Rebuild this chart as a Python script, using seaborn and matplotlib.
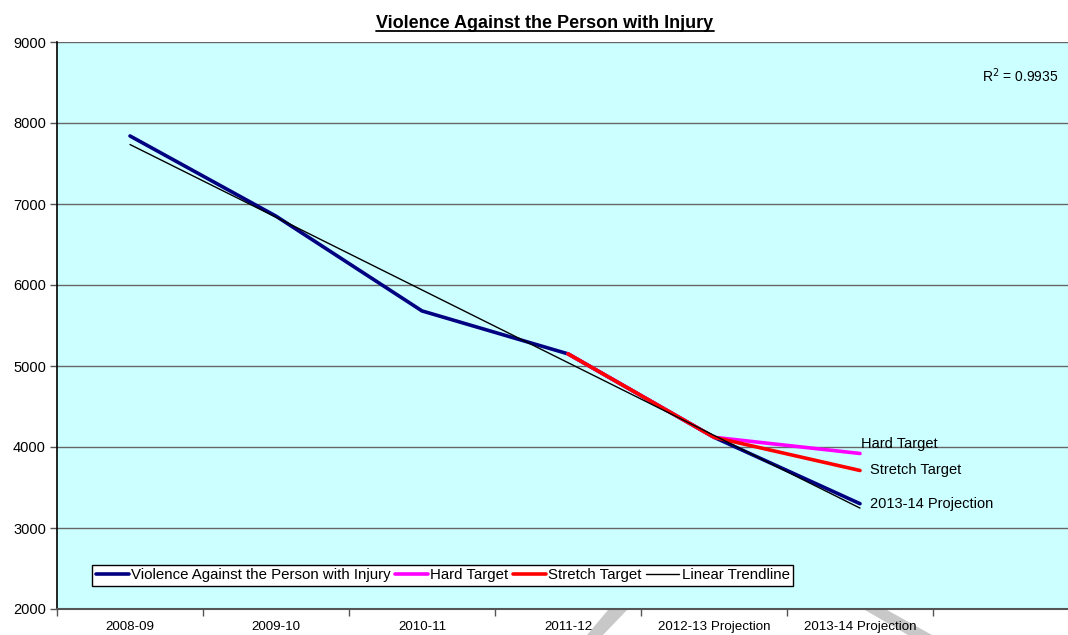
import numpy as np
import pandas as pd
import matplotlib
matplotlib.use("Agg")
import matplotlib.pyplot as plt
from matplotlib.patches import Polygon
import seaborn as sns

# ---- data -------------------------------------------------------------
periods = ["2008-09", "2009-10", "2010-11", "2011-12",
           "2012-13 Projection", "2013-14 Projection"]
offences = [7840, 6850, 5680, 5150, 4120, 3300]
hard_target = [np.nan, np.nan, np.nan, 5150, 4120, 3920]
stretch_target = [np.nan, np.nan, np.nan, 5150, 4120, 3710]
r_squared = "0.9935"

series_names = ["Violence Against the Person with Injury", "Hard Target",
                "Stretch Target"]
end_labels = ["2013-14 Projection", "Hard Target", "Stretch Target"]

# ---- styling ----------------------------------------------------------
sns.set_theme(style="white")
plt.rcParams["font.family"] = ["Liberation Sans", "DejaVu Sans"]
plt.rcParams["text.color"] = "black"
plt.rcParams["xtick.color"] = "black"
plt.rcParams["ytick.color"] = "black"

fig = plt.figure(figsize=(10.68, 6.35), dpi=100)
ax = fig.add_axes([57 / 1068, 26 / 635, 1022 / 1068, 567 / 635])
ax.set_facecolor("#CCFFFF")

idx = np.arange(len(periods))
df = pd.DataFrame({"idx": idx, "offences": offences,
                   "hard": hard_target, "stretch": stretch_target})

sns.lineplot(data=df, x="idx", y="offences", ax=ax, color="#000080",
             lw=2.6, label=series_names[0], zorder=3)
sns.lineplot(data=df.dropna(), x="idx", y="hard", ax=ax, color="#FF00FF",
             lw=2.6, label=series_names[1], zorder=4)
sns.lineplot(data=df.dropna(), x="idx", y="stretch", ax=ax, color="#FF0000",
             lw=2.6, label=series_names[2], zorder=5)
sns.regplot(data=df, x="idx", y="offences", ax=ax, scatter=False, ci=None,
            truncate=True, color="black", line_kws={"lw": 1.0, "zorder": 6},
            label="Linear Trendline")

# ---- axes -------------------------------------------------------------
ax.set_xlim(-0.5, 6.5)
ax.set_ylim(2000, 9000)
ax.set_yticks(range(2000, 9001, 1000))
ax.yaxis.grid(True, color="#666666", lw=1.0)
ax.set_axisbelow(True)
ax.set_xlabel("")
ax.set_ylabel("")

ax.set_xticks(idx)
ax.set_xticklabels(periods, fontsize=9.6)
ax.set_xticks(np.arange(-0.5, 7, 1.0), minor=True)
ax.tick_params(axis="x", which="major", length=0, pad=8.5)
ax.tick_params(axis="x", which="minor", length=5, width=1, color="#555555",
               direction="out", bottom=True)
ax.tick_params(axis="y", length=5, width=1, color="#555555", direction="out",
               left=True, labelsize=10.5, pad=3)

for side in ("top", "right"):
    ax.spines[side].set_visible(False)
ax.spines["left"].set_color("black")
ax.spines["left"].set_linewidth(1.2)
ax.spines["bottom"].set_color("#555555")
ax.spines["bottom"].set_linewidth(1.5)

# ---- text -------------------------------------------------------------
fig.text(545 / 1068, 1 - 28 / 635, "Violence Against the Person with Injury",
         ha="center", va="baseline", fontsize=13, fontweight="bold")
# underline for the title
fig.add_artist(plt.Line2D([376 / 1068, 714 / 1068],
                          [1 - 31 / 635, 1 - 31 / 635],
                          color="black", lw=1.3))

ax.text(0.905, 0.94, r"R$^2$ = " + r_squared, transform=ax.transAxes,
        fontsize=10, ha="left", va="center")

last = len(periods) - 1
ax.annotate(end_labels[1], (last, hard_target[-1]), xytext=(1, 2),
            textcoords="offset points", fontsize=10.5, ha="left", va="bottom")
ax.annotate(end_labels[2], (last, stretch_target[-1]), xytext=(7, 0),
            textcoords="offset points", fontsize=10.5, ha="left", va="center")
ax.annotate(end_labels[0], (last, offences[-1]), xytext=(7, 0),
            textcoords="offset points", fontsize=10.5, ha="left", va="center")

leg = ax.legend(loc="lower left", bbox_to_anchor=(35 / 1022, 23 / 567),
                ncol=4, fontsize=10.8, frameon=True, fancybox=False,
                handlelength=2.2, handletextpad=0.15, columnspacing=0.3,
                borderpad=0.25, borderaxespad=0)
leg.get_frame().set_edgecolor("black")
leg.get_frame().set_linewidth(1.0)
leg.get_frame().set_facecolor("white")
leg.get_frame().set_alpha(1.0)

# faint diagonal strokes of a background watermark below the axis
for pts in ([(587, 635), (603, 635), (627, 610), (608, 610)],
            [(865, 610), (887, 610), (932, 635), (908, 635)]):
    fig.patches.append(Polygon([(x / 1068, 1 - y / 635) for x, y in pts],
                               closed=True, transform=fig.transFigure,
                               facecolor="#C8C8C8", edgecolor="none",
                               zorder=-1))

fig.savefig("out.png", dpi=100)
